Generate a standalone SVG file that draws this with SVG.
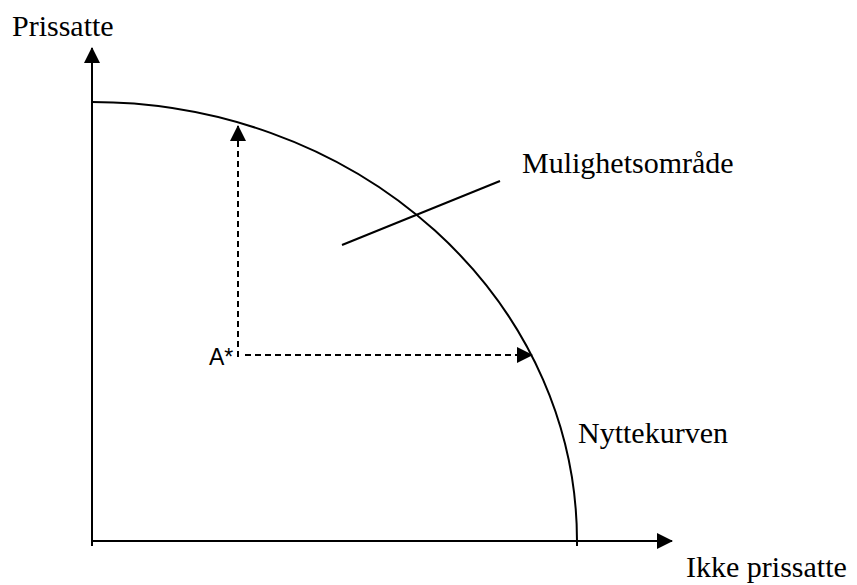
<svg xmlns="http://www.w3.org/2000/svg" width="857" height="585" viewBox="0 0 857 585">
<defs>
<style>
.ax{stroke:#000;stroke-width:2;fill:none}
.dash{stroke:#000;stroke-width:2;fill:none;stroke-dasharray:6,4}
.lbl{font-family:"Liberation Serif","Times New Roman",serif;font-size:30px;fill:#000}
.sans{font-family:"Liberation Sans",Arial,sans-serif;font-size:23px;fill:#000}
</style>
<marker id="ah" markerWidth="16" markerHeight="16" refX="15" refY="8" orient="auto" markerUnits="userSpaceOnUse" viewBox="0 0 16 16">
<path d="M0,0 L16,8 L0,16 Z" fill="#000"/>
</marker>
</defs>
<rect width="857" height="585" fill="#fff"/>
<g id="connectors">
<line class="ax" x1="92" y1="546" x2="92" y2="48" marker-end="url(#ah)"/>
<line class="ax" x1="92" y1="541" x2="672" y2="541" marker-end="url(#ah)"/>
<path class="ax" d="M92,102 A485,439 0 0 1 577,541 L577,546"/>
<line class="dash" x1="238" y1="357" x2="238" y2="126" marker-end="url(#ah)"/>
<line class="dash" x1="245" y1="355" x2="532" y2="355" marker-end="url(#ah)"/>
<line class="ax" x1="342" y1="245" x2="500" y2="181"/>
</g>
<g id="axis-y-label"><text class="lbl" x="12" y="36">Prissatte</text></g>
<g id="axis-x-label"><text class="lbl" x="686" y="577">Ikke prissatte</text></g>
<g id="mulighetsomrade"><text class="lbl" x="522" y="173">Mulighetsområde</text></g>
<g id="nyttekurven"><text class="lbl" x="728" y="443" text-anchor="end">Nyttekurven</text></g>
<g id="a-star"><text class="sans" x="209" y="365">A*</text></g>
</svg>
